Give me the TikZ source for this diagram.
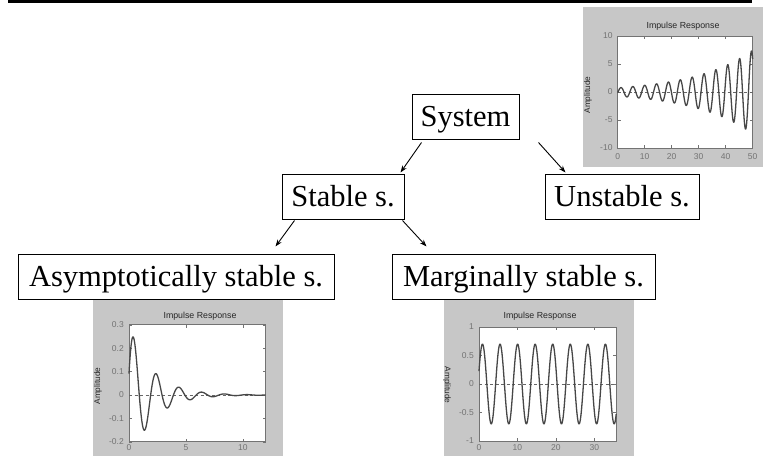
\documentclass[tikz,border=0pt]{standalone}
\usepackage{fontspec}
\setmainfont{Liberation Serif}
\newfontfamily\plotfont{Liberation Sans}
\usetikzlibrary{calc,arrows.meta}
\tikzset {>=Stealth}
\tikzset{
  kind/.style={draw, line width=1pt, fill=white, font=\fontsize{30.5}{36}\selectfont,
    text height=27pt, text depth=6.6pt, inner sep=0pt, minimum height=45pt},
  link/.style={->, line width=0.9pt, >={Stealth[length=7pt,width=5pt]}},
  panel/.style={fill=black!22},
  axesbox/.style={fill=white, draw=black!55, line width=0.7pt},
  tick/.style={draw=black!55, line width=0.6pt},
  zeroline/.style={black!60, line width=0.8pt, dash pattern=on 3pt off 2.5pt},
  response/.style={black!72, line width=1.3pt, line join=round},
  ticklab/.style={font=\plotfont\fontsize{8.5}{9}\selectfont, text=black!55, inner sep=1pt},
  plottitle/.style={font=\plotfont\fontsize{8.8}{10}\selectfont, text=black!85, inner sep=0pt},
  ylab/.style={font=\plotfont\fontsize{8.3}{9}\selectfont, text=black!85, inner sep=0pt, rotate=90}
}

\begin{document}
\begin{tikzpicture}[x=1pt,y=-1pt]
\useasboundingbox (0,0) rectangle (773,456);

% Rule at the top
\draw [line width=2.6pt] (8,1.3) -- (752,1.3);

% Unstable response, top right
\fill [panel] (583,7) rectangle (763,167);
\node [plottitle] (t-un) at (683,26) {Impulse Response};
\node [ylab] (y-un) at (588,95) {Amplitude};
\begin{scope}[shift={(617.7,92)}, xscale=2.7, yscale=-5.6]
  \draw [axesbox] (0,-10) rectangle (50,10);
  \foreach \v in {-10,-5,0,5,10} {
    \draw [tick] (0,\v) -- +(1.1,0);
    \draw [tick] (50,\v) -- +(-1.1,0);
    \node [ticklab, anchor=east, xshift=-4pt] at (0,\v) {\v};
  }
  \foreach \t in {0,10,20,30,40,50} {
    \draw [tick] (\t,-10) -- +(0,0.54);
    \draw [tick] (\t,10) -- +(0,-0.54);
    \node [ticklab, anchor=north, yshift=-4pt] at (\t,-10) {\t};
  }
  \draw [zeroline] (0,0) -- (50,0);
  \draw [response] plot[domain=0:50, samples=500]
    (\x, {0.75*exp(0.046*\x)*cos(deg(1.43*(\x-1.2)))});
\end{scope}

% Asymptotically stable response, bottom left
\fill [panel] (93,298) rectangle (283,456);
\node [plottitle] (t-as) at (200,316) {Impulse Response};
\node [ylab] (y-as) at (98,386) {Amplitude};
\begin{scope}[shift={(129,395)}, xscale=11.39, yscale=-234]
  \draw [axesbox] (0,-0.2) rectangle (12,0.3);
  \foreach \v in {-0.2,-0.1,0,0.1,0.2,0.3} {
    \draw [tick] (0,\v) -- +(0.26,0);
    \draw [tick] (12,\v) -- +(-0.26,0);
    \node [ticklab, anchor=east, xshift=-4pt] at (0,\v) {\v};
  }
  \foreach \t in {0,5,10} {
    \draw [tick] (\t,-0.2) -- +(0,0.013);
    \draw [tick] (\t,0.3) -- +(0,-0.013);
    \node [ticklab, anchor=north, yshift=-2pt] at (\t,-0.2) {\t};
  }
  \draw [zeroline] (0,0) -- (12,0);
  \draw [response] plot[domain=0:12, samples=300]
    (\x, {0.3*exp(-0.5*\x)*sin(deg(pi*\x+0.31))});
\end{scope}

% Marginally stable response, bottom middle
\fill [panel] (444,298) rectangle (634,456);
\node [plottitle] (t-ma) at (540,316) {Impulse Response};
\node [ylab, rotate=180] (y-ma) at (447,385) {Amplitude};
\begin{scope}[shift={(479,384)}, xscale=3.843, yscale=-57]
  \draw [axesbox] (0,-1) rectangle (35.7,1);
  \foreach \v in {-1,-0.5,0,0.5,1} {
    \draw [tick] (0,\v) -- +(0.8,0);
    \draw [tick] (35.7,\v) -- +(-0.8,0);
    \node [ticklab, anchor=east, xshift=-4pt] at (0,\v) {\v};
  }
  \foreach \t in {0,10,20,30} {
    \draw [tick] (\t,-1) -- +(0,0.053);
    \draw [tick] (\t,1) -- +(0,-0.053);
    \node [ticklab, anchor=north, yshift=-2pt] at (\t,-1) {\t};
  }
  \draw [zeroline] (0,0) -- (35.7,0);
  \draw [response] plot[domain=0:35.7, samples=400]
    (\x, {0.7*sin(deg(1.375*\x+0.33))});
\end{scope}

% Classification boxes
\node [kind, minimum width=107pt] (system) at (465.5,116.5) {System};
\node [kind, minimum width=122pt] (stable) at (343,196.5) {Stable s.};
\node [kind, minimum width=154pt] (unstable) at (622,196.5) {Unstable s.};
\node [kind, minimum width=316pt] (asymp) at (176,276.5) {Asymptotically stable s.};
\node [kind, minimum width=263pt] (marginal) at (523.5,276.5) {Marginally stable s.};

% Arrows between the boxes
\draw [link] ([xshift=10pt,yshift=-3pt]system.south west) -- ([xshift=-4pt,yshift=1pt]stable.north east);
\draw [link] ([xshift=19pt,yshift=-3pt]system.south east) -- ([xshift=21pt,yshift=1pt]unstable.north west);
\draw [link] ([xshift=13pt,yshift=-1pt]stable.south west) -- ([xshift=-59pt,yshift=7pt]asymp.north east);
\draw [link] ([xshift=-2pt,yshift=-1pt]stable.south east) -- ([xshift=35pt,yshift=7pt]marginal.north west);
\end{tikzpicture}
\end{document}
